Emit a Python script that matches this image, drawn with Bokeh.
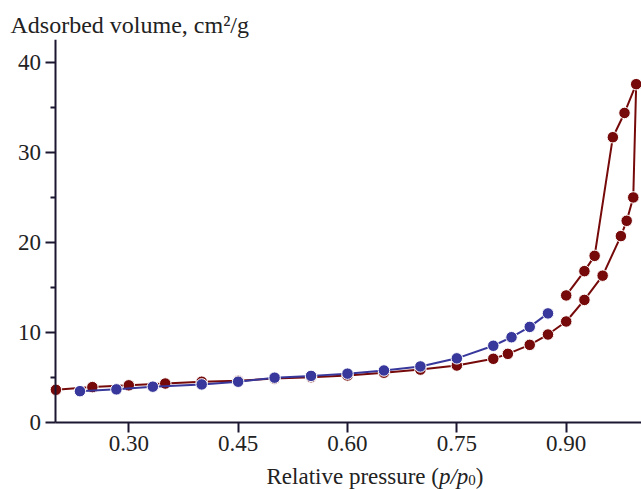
from bokeh.plotting import figure
from bokeh.models import FixedTicker, Range1d, Title, Label
from bokeh.embed import file_html
from bokeh.resources import INLINE

# Red loop: adsorption (lower) branch then desorption (upper) branch
ads_x = [0.200, 0.250, 0.300, 0.350, 0.400, 0.450, 0.500, 0.550, 0.600, 0.650, 0.700,
         0.750, 0.800, 0.820, 0.850, 0.875, 0.900, 0.925, 0.950, 0.975, 0.983, 0.992, 0.996]
ads_y = [3.6, 3.9, 4.1, 4.3, 4.5, 4.6, 4.85, 5.0, 5.2, 5.5, 5.85,
         6.3, 7.05, 7.6, 8.6, 9.75, 11.2, 13.6, 16.3, 20.7, 22.4, 25.0, 37.6]
des_x = [0.980, 0.964, 0.939, 0.925, 0.900]
des_y = [34.4, 31.7, 18.5, 16.8, 14.1]

# Blue series
blue_x = [0.233, 0.283, 0.333, 0.400, 0.450, 0.500, 0.550, 0.600, 0.650, 0.700,
          0.750, 0.800, 0.825, 0.850, 0.875]
blue_y = [3.45, 3.65, 3.95, 4.2, 4.5, 4.95, 5.15, 5.4, 5.75, 6.2,
          7.1, 8.5, 9.45, 10.6, 12.1]

x_ticks = [0.30, 0.45, 0.60, 0.75, 0.90]
x_tick_labels = {0.30: "0.30", 0.45: "0.45", 0.60: "0.60", 0.75: "0.75", 0.90: "0.90"}
y_ticks = [0, 10, 20, 30, 40]
y_minor = [5, 15, 25, 35]

X_MIN, X_MAX = 0.2, 1.0033
Y_MIN, Y_MAX = 0.0, 42.57

RED = "#760a0a"
BLUE = "#38389c"
AXIS = "#1c1630"
TXT = "#222222"
FONT = "Liberation Serif"

p = figure(width=641, height=489, output_backend="svg", toolbar_location=None,
           x_range=Range1d(0.124, X_MAX), y_range=Range1d(-7.49, Y_MAX),
           min_border_left=0, min_border_right=0, min_border_top=39, min_border_bottom=0)
p.title = None
p.add_layout(Title(text="Adsorbed volume, cm²/g", align="left", offset=10,
                   text_font=FONT, text_font_size="24px", text_font_style="normal",
                   text_color=TXT, standoff=3), "above")

p.outline_line_color = None
p.xgrid.grid_line_color = None
p.ygrid.grid_line_color = None
p.background_fill_color = "white"
p.border_fill_color = "white"

xa = p.xaxis[0]
xa.ticker = FixedTicker(ticks=x_ticks)
xa.major_label_overrides = x_tick_labels
xa.fixed_location = Y_MIN
xa.bounds = (X_MIN, X_MAX)
ya = p.yaxis[0]
ya.ticker = FixedTicker(ticks=y_ticks, minor_ticks=y_minor)
ya.fixed_location = X_MIN
ya.bounds = (Y_MIN, Y_MAX)

for ax in (xa, ya):
    ax.axis_line_color = AXIS
    ax.axis_line_width = 2
    ax.major_tick_line_color = AXIS
    ax.major_tick_line_width = 2
    ax.major_tick_out = 10
    ax.major_tick_in = 0
    ax.minor_tick_line_color = AXIS
    ax.minor_tick_line_width = 2
    ax.minor_tick_out = 5
    ax.minor_tick_in = 0
    ax.major_label_text_font = FONT
    ax.major_label_text_font_size = "23px"
    ax.major_label_text_color = TXT
xa.minor_tick_line_color = None
xa.major_label_standoff = 4
ya.major_label_standoff = 5

red_x = ads_x + des_x
red_y = ads_y + des_y
p.line(red_x, red_y, line_color=RED, line_width=2)
p.scatter(red_x, red_y, size=11.5, fill_color=RED, line_color="white", line_width=1)

p.line(blue_x, blue_y, line_color=BLUE, line_width=2)
p.scatter(blue_x, blue_y, size=11.5, fill_color=BLUE, line_color="white", line_width=1)

# x-axis title built from pieces (italic p, subscript 0); screen units inside the frame
base_y = 13
x0 = 266
fs = 23
pieces = [
    ("Relative pressure (", "normal", fs, 0, 7.498),
    ("p/p", "italic", fs, 0, 1.278),
    ("0", "normal", 15, -3, 0.5 * 15 / fs),
    (")", "normal", fs, 0, 0.333),
]
cx = x0
for txt, style, size, dy, w_em in pieces:
    p.add_layout(Label(x=cx, y=base_y + dy, x_units="screen", y_units="screen", text=txt,
                       text_font=FONT, text_font_size=f"{size}px", text_font_style=style,
                       text_color=TXT, text_baseline="alphabetic", text_align="left"))
    cx += w_em * fs

open("out.html", "w").write(file_html(p, INLINE))
